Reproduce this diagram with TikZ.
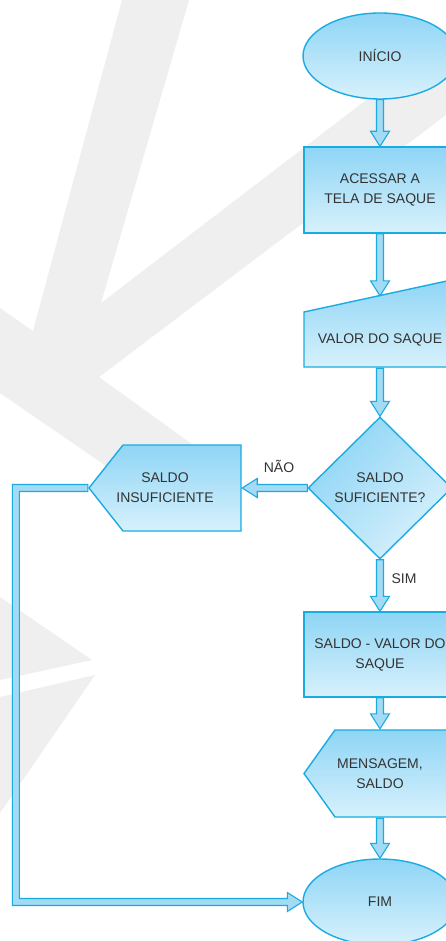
\documentclass[tikz,border=0pt]{standalone}
\usepackage{fontspec}
\setmainfont{Liberation Sans}
\usetikzlibrary{shapes.geometric,calc}

\definecolor{edgeblue}{HTML}{1BABE3}
\definecolor{filltop}{HTML}{8ED5F5}
\definecolor{fillbot}{HTML}{D8F1FC}
\definecolor{shaftfill}{HTML}{A3DBF5}
\definecolor{labeltext}{HTML}{333333}
\definecolor{watermark}{HTML}{EEEFEE}

% vertical block arrow pointing down, aligned on the target's x
\newcommand\downblock[2]{%
  \path[blockarrow] let \p1=(#1), \p2=(#2) in
    (\x2-3.5pt,\y1) -- (\x2+3.5pt,\y1) -- (\x2+3.5pt,\y2+15pt) -- (\x2+9.5pt,\y2+15pt)
    -- (\x2,\y2) -- (\x2-9.5pt,\y2+15pt) -- (\x2-3.5pt,\y2+15pt) -- cycle;}
% horizontal block arrow pointing left
\newcommand\leftblock[2]{%
  \path[blockarrow] let \p1=(#1), \p2=(#2) in
    (\x1,\y1+3.5pt) -- (\x2+15pt,\y1+3.5pt) -- (\x2+15pt,\y1+9.5pt) -- (\x2,\y1)
    -- (\x2+15pt,\y1-9.5pt) -- (\x2+15pt,\y1-3.5pt) -- (\x1,\y1-3.5pt) -- cycle;}

\begin{document}
\begin{tikzpicture}[x=1pt,y=-1pt,
  every node/.style={text=labeltext, font=\fontsize{14}{20}\selectfont, align=center, inner sep=0pt},
  flowbox/.style={draw=edgeblue, line width=1.4pt, top color=filltop, bottom color=fillbot},
  terminal/.style={flowbox, ellipse, minimum width=154pt, minimum height=86pt},
  process/.style={flowbox, rectangle, minimum width=152pt, minimum height=86pt},
  decision/.style={flowbox, diamond, minimum width=144pt, minimum height=142pt, shading angle=45},
  blockarrow/.style={draw=edgeblue, line width=1.1pt, fill=shaftfill, line join=miter},
  % display symbol: pointed on the left, flat on the right
  pointleft/.style={rectangle, path picture={
    \path[top color=filltop, bottom color=fillbot, draw=edgeblue, line width=1.4pt]
      let \p1=(path picture bounding box.north west), \p2=(path picture bounding box.south east) in
      (\x1+1pt,0.5*\y1+0.5*\y2) -- (\x1+#1,\y1-1pt) -- (\x2-1pt,\y1-1pt)
      -- (\x2-1pt,\y2+1pt) -- (\x1+#1,\y2+1pt) -- cycle;}},
  % manual input symbol: top edge rising to the right
  manualin/.style={rectangle, path picture={
    \path[top color=filltop, bottom color=fillbot, draw=edgeblue, line width=1.4pt]
      let \p1=(path picture bounding box.north west), \p2=(path picture bounding box.south east) in
      (\x1+1pt,\y2+1pt) -- (\x1+1pt,\y1-#1) -- (\x2-1pt,\y1-1pt)
      -- (\x2-1pt,\y2+1pt) -- cycle;}}
]
\useasboundingbox (0,0) rectangle (446,941);
\clip (0,0) rectangle (446,941);
\fill[white] (0,0) rectangle (446,941);

% background emblem
\fill[watermark] (122,0) -- (189,0) -- (101,303) -- (446,39) -- (446,115) -- (99,377)
  -- (200,450) -- (125,479) -- (0,393) -- (0,308) -- (33,331) -- cycle;
\fill[watermark] (0,597) -- (92,660) -- (0,680) -- cycle;
\fill[watermark] (0,697) -- (95,675) -- (0,813) -- cycle;

% flowchart symbols
\node[terminal] (inicio) at (380,56) {INÍCIO};
\node[process] (acessar) at (380,190) {ACESSAR A\\TELA DE SAQUE};
\node[manualin=34pt, minimum width=154pt, minimum height=90pt, text height=40pt, text depth=0pt]
  (valor) at (380,323) {VALOR DO SAQUE};
\node[decision] (decisao) at (380,488) {SALDO\\SUFICIENTE?};
\node[pointleft=35pt, minimum width=154pt, minimum height=88pt] (insuf) at (165,488) {SALDO\\INSUFICIENTE};
\node[process, minimum height=85pt] (subtrai) at (380,654.5) {SALDO - VALOR DO\\SAQUE};
\node[pointleft=32pt, minimum width=154pt, minimum height=89pt] (mensagem) at (380,773.5) {MENSAGEM,\\SALDO};
\node[terminal] (fim) at (380,902) {FIM};

% connectors
\coordinate (valorin) at ($(valor.north)+(0,18)$);
\coordinate (rail) at (15.8,0);
\downblock{inicio.south}{acessar.north}
\downblock{acessar.south}{valorin}
\downblock{valor.south}{decisao.north}
\downblock{decisao.south}{subtrai.north}
\downblock{subtrai.south}{mensagem.north}
\downblock{mensagem.south}{fim.north}
\leftblock{decisao.west}{insuf.east}
\path[blockarrow] let \p1=(insuf.west), \p2=(fim.west), \p3=(rail) in
  (\x1,\y1+3.5pt) -- (\x3-3.5pt,\y1+3.5pt) -- (\x3-3.5pt,\y2-3.5pt) -- (\x2-15pt,\y2-3.5pt)
  -- (\x2-15pt,\y2-9.5pt) -- (\x2,\y2) -- (\x2-15pt,\y2+9.5pt) -- (\x2-15pt,\y2+3.5pt)
  -- (\x3+3.5pt,\y2+3.5pt) -- (\x3+3.5pt,\y1-3.5pt) -- (\x1,\y1-3.5pt) -- cycle;

% branch labels
\node[anchor=base] (nao) at (279,472) {NÃO};
\node[anchor=base] (sim) at (404,583) {SIM};
\end{tikzpicture}
\end{document}
